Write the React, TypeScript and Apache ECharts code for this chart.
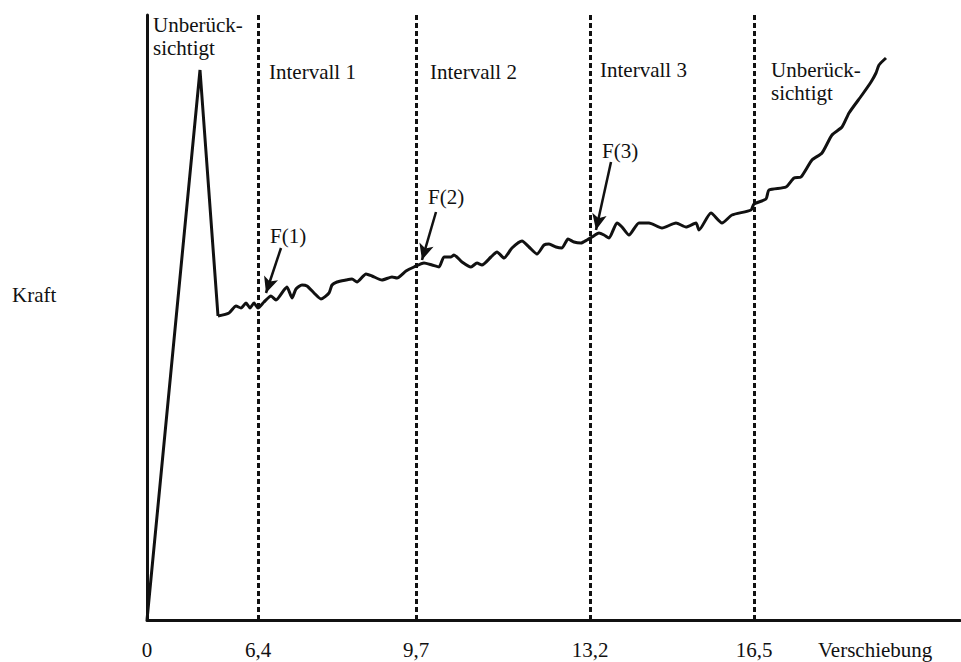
import React, { useEffect, useRef } from "react";
import * as echarts from "echarts";

// Schematic coordinates: x = displacement (sketch units), y = force (sketch units)
const curveX = [0, 53, 71, 82, 89, 94, 99, 103, 107, 111, 117, 124, 129, 137, 140, 145, 149, 155, 160, 167, 174, 182, 185, 190, 199, 205, 210, 219, 225, 235, 245, 250, 259, 267, 277, 285, 292, 297, 304, 307, 315, 324, 330, 335, 344, 350, 357, 365, 375, 382, 390, 397, 402, 409, 415, 421, 427, 434, 440, 445, 452, 457, 462, 470, 475, 482, 492, 502, 515, 529, 539, 549, 552, 564, 575, 585, 604, 607, 619, 622, 639, 647, 654, 665, 675, 685, 695, 702, 715, 724, 729, 732, 739];
const curveY = [0, 550, 304, 307, 314, 312, 317, 312, 317, 312, 318, 324, 320, 330, 333, 322, 331, 335, 334, 327, 321, 327, 335, 338, 340, 341, 338, 346, 344, 340, 343, 342, 349, 353, 357, 355, 353, 363, 363, 365, 358, 353, 357, 355, 363, 368, 362, 372, 379, 373, 366, 375, 376, 373, 372, 381, 378, 377, 380, 383, 387, 385, 382, 397, 393, 385, 397, 397, 392, 397, 393, 397, 390, 407, 397, 405, 410, 416, 421, 430, 433, 442, 443, 460, 467, 485, 493, 507, 525, 538, 547, 555, 562];
// the first three points (rise, peak, drop) are drawn straight
const sharpCount = 3;

const tickValues = [0, 111, 269, 443, 607];
const tickLabels = ["0", "6,4", "9,7", "13,2", "16,5"];
const boundaryValues = [111, 269, 443, 607];

const arrowStartX = [134, 289, 464];
const arrowStartY = [372, 408, 458];
const arrowEndX = [119, 275, 449];
const arrowEndY = [327, 360, 390];

const regionLabels = ["Unberück-\nsichtigt", "Intervall 1", "Intervall 2", "Intervall 3", "Unberück-\nsichtigt"];
const forceLabels = ["F(1)", "F(2)", "F(3)"];
const xAxisName = "Verschiebung";
const yAxisName = "Kraft";

const FONT = "'Liberation Serif', 'DejaVu Serif', serif";
const INK = "#111";

export default function App() {
  const ref = useRef<HTMLDivElement>(null);
  useEffect(() => {
    if (!ref.current) return;
    const chart = echarts.init(ref.current, null, { renderer: "svg" });
    const txt = (text: string, x: number, y: number, va: string = "middle") => ({
      type: "text",
      x,
      y,
      silent: true,
      style: {
        text,
        fill: INK,
        fontFamily: FONT,
        fontSize: 21,
        lineHeight: 23,
        align: "left",
        verticalAlign: va,
      },
    });
    const pts = curveX.map((x, i) => [x, curveY[i]]);
    chart.setOption({
      animation: false,
      backgroundColor: "#fff",
      grid: { left: 147, right: 1, top: 15, bottom: 42 },
      xAxis: {
        type: "value",
        min: 0,
        max: 813,
        axisLine: { show: true, lineStyle: { color: INK, width: 3 } },
        axisTick: { show: false },
        splitLine: { show: false },
        axisLabel: {
          customValues: tickValues,
          formatter: (v: number) => {
            const i = tickValues.indexOf(v);
            return i >= 0 ? tickLabels[i] : "";
          },
          color: INK,
          fontFamily: FONT,
          fontSize: 21,
          margin: 19,
        },
      },
      yAxis: {
        type: "value",
        min: 0,
        max: 605,
        axisLine: { show: true, lineStyle: { color: INK, width: 3 } },
        axisTick: { show: false },
        axisLabel: { show: false },
        splitLine: { show: false },
      },
      series: [
        {
          type: "line",
          data: pts.slice(0, sharpCount),
          symbol: "none",
          smooth: false,
          lineStyle: { color: INK, width: 3, join: "miter" },
        },
        {
          type: "line",
          data: pts.slice(sharpCount - 1),
          symbol: "none",
          smooth: 0.2,
          lineStyle: { color: INK, width: 3 },
          markLine: {
            silent: true,
            symbol: "none",
            label: { show: false },
            lineStyle: { color: INK, width: 3, type: [5, 3] },
            data: boundaryValues.map((v) => ({ xAxis: v })),
          },
        },
        {
          type: "line",
          data: [],
          markLine: {
            silent: true,
            symbol: ["none", "arrow"],
            symbolSize: [11, 16],
            label: { show: false },
            lineStyle: { color: INK, width: 2.5, type: "solid" },
            itemStyle: { color: INK },
            data: arrowStartX.map((x, i) => [
              { coord: [x, arrowStartY[i]] },
              { coord: [arrowEndX[i], arrowEndY[i]] },
            ]),
          },
        },
      ],
      graphic: [
        txt(regionLabels[0], 153, 13.5, "top"),
        txt(regionLabels[1], 269, 72),
        txt(regionLabels[2], 430, 72),
        txt(regionLabels[3], 600, 70),
        txt(regionLabels[4], 771, 58.5, "top"),
        txt(forceLabels[0], 270, 236),
        txt(forceLabels[1], 428, 197),
        txt(forceLabels[2], 602, 151),
        txt(yAxisName, 12, 295),
        txt(xAxisName, 818, 650),
      ],
    });
    return () => chart.dispose();
  }, []);
  return (
    <div
      ref={ref}
      style={{ position: "fixed", left: 0, top: 0, width: 961, height: 662 }}
    />
  );
}
